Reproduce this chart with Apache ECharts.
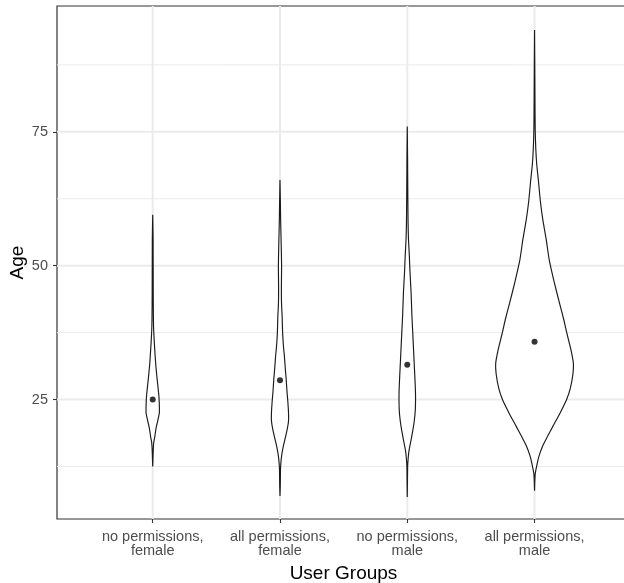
<!DOCTYPE html>
<html>
<head>
<meta charset="utf-8">
<script src="https://cdn.jsdelivr.net/npm/echarts@6/dist/echarts.min.js"></script>
<style>html,body{margin:0;padding:0;background:#fff}#chart{width:624px;height:583px}</style>
</head>
<body>
<div id="chart"></div>
<script>
// ---- data ----
var groupLabels = ['no permissions,\nfemale', 'all permissions,\nfemale', 'no permissions,\nmale', 'all permissions,\nmale'];
var groupPos = [1, 2, 3, 4];
var yTicks = [25, 50, 75];
var yMinorTicks = [12.5, 37.5, 62.5, 87.5];
var means = [25.0, 28.6, 31.5, 35.8];

// violin profiles: age values and half-widths (in x-axis units)
var v1Age  = [12.5, 15.5, 17, 18, 19.5, 21, 22.5, 24, 25.5, 27, 29, 31.5, 34.7, 37.7, 40, 45, 55, 59.5];
var v1Half = [0, 0.004, 0.008, 0.016, 0.025, 0.039, 0.052, 0.052, 0.049, 0.043, 0.034, 0.024, 0.015, 0.008, 0.0055, 0.004, 0.003, 0];

var v2Age  = [7, 9, 12, 13.5, 15, 16.5, 18, 19.5, 21, 22.5, 24.5, 26.5, 28.7, 31, 33, 35, 37.5, 40.5, 43, 46, 50, 54, 58, 62, 66];
var v2Half = [0, 0.0024, 0.004, 0.008, 0.016, 0.028, 0.043, 0.057, 0.067, 0.067, 0.062, 0.055, 0.049, 0.041, 0.035, 0.027, 0.0205, 0.017, 0.012, 0.011, 0.0126, 0.0095, 0.0055, 0.003, 0];

var v3Age  = [6.8, 10, 12.5, 14, 15.5, 17, 19, 21, 23, 25.5, 28, 31, 34, 37.5, 41, 45, 49, 52, 55, 58, 64, 70, 76];
var v3Half = [0, 0.0016, 0.003, 0.007, 0.014, 0.026, 0.042, 0.055, 0.063, 0.065, 0.062, 0.056, 0.05, 0.043, 0.036, 0.03, 0.021, 0.016, 0.0095, 0.0063, 0.004, 0.0024, 0];

var v4Age  = [8, 10, 11.3, 13.2, 14.5, 16.3, 18, 20, 22.5, 25, 27, 29.5, 31.8, 34.5, 37.4, 40, 43, 47, 51, 55, 58.6, 62, 66, 69, 72, 75, 78, 85, 94];
var v4Half = [0, 0.0024, 0.0063, 0.022, 0.0355, 0.063, 0.099, 0.144, 0.201, 0.252, 0.28, 0.3, 0.305, 0.284, 0.254, 0.229, 0.196, 0.154, 0.116, 0.091, 0.065, 0.046, 0.03, 0.017, 0.0095, 0.0055, 0.004, 0.0024, 0];

var violinAges = [v1Age, v2Age, v3Age, v4Age];
var violinHalves = [v1Half, v2Half, v3Half, v4Half];

// ---- chart ----
var FONT = 'Liberation Sans, Arial, Helvetica, sans-serif';
var X_MIN = 0.248, X_MAX = 4.75, Y_MIN = 2.7, Y_MAX = 98.5;
var chart = echarts.init(document.getElementById('chart'), null, {renderer: 'canvas'});

var violinData = groupPos.map(function (p, i) { return [p, i]; });

function renderViolin(params, api) {
  var pos = api.value(0);
  var idx = api.value(1);
  var ages = violinAges[idx], halves = violinHalves[idx];
  var pts = [];
  for (var i = 0; i < ages.length; i++) pts.push(api.coord([pos + halves[i], ages[i]]));
  for (var j = ages.length - 1; j >= 0; j--) pts.push(api.coord([pos - halves[j], ages[j]]));
  return {
    type: 'polygon',
    shape: {points: pts, smooth: 0.2},
    style: {fill: '#ffffff', stroke: '#1a1a1a', lineWidth: 1.15}
  };
}

function hGrid(width) {
  return function (params, api) {
    var cs = params.coordSys;
    var y = api.coord([X_MIN, api.value(1)])[1];
    return {type: 'line', shape: {x1: cs.x, y1: y, x2: cs.x + cs.width, y2: y},
      style: {stroke: '#ebebeb', lineWidth: width}};
  };
}
function vGrid(width) {
  return function (params, api) {
    var cs = params.coordSys;
    var x = api.coord([api.value(0), Y_MIN])[0];
    return {type: 'line', shape: {x1: x, y1: cs.y, x2: x, y2: cs.y + cs.height},
      style: {stroke: '#ebebeb', lineWidth: width}};
  };
}

var option = {
  animation: false,
  backgroundColor: '#ffffff',
  grid: {left: 57, right: -6, top: 6, bottom: 64, outerBoundsMode: 'none', containLabel: false,
    show: true, borderColor: '#333333', borderWidth: 1.2, backgroundColor: 'transparent'},
  xAxis: {
    type: 'value', min: X_MIN, max: X_MAX,
    splitLine: {show: false},
    axisLine: {show: false},
    axisTick: {show: true, customValues: groupPos, length: 4, lineStyle: {color: '#333333', width: 1.1}},
    axisLabel: {
      customValues: groupPos, margin: 11, color: '#4d4d4d', fontFamily: FONT, fontSize: 14.5, lineHeight: 14,
      formatter: function (v) { return groupLabels[Math.round(v) - 1] || ''; }
    },
    name: 'User Groups', nameLocation: 'middle', nameGap: 45, nameMoveOverlap: false,
    nameTextStyle: {color: '#000000', fontFamily: FONT, fontSize: 19}
  },
  yAxis: {
    type: 'value', min: Y_MIN, max: Y_MAX,
    splitLine: {show: false},
    axisLine: {show: false},
    axisTick: {show: true, customValues: yTicks, length: 4, lineStyle: {color: '#333333', width: 1.1}},
    axisLabel: {customValues: yTicks, margin: 9, color: '#4d4d4d', fontFamily: FONT, fontSize: 14.5},
    name: 'Age', nameLocation: 'middle', nameGap: 30, nameRotate: 90, nameMoveOverlap: false,
    nameTextStyle: {color: '#000000', fontFamily: FONT, fontSize: 19}
  },
  series: [
    {type: 'custom', silent: true, z: 0, renderItem: hGrid(1),
      data: yMinorTicks.map(function (v) { return [X_MIN, v]; })},
    {type: 'custom', silent: true, z: 0, renderItem: hGrid(2),
      data: yTicks.map(function (v) { return [X_MIN, v]; })},
    {type: 'custom', silent: true, z: 0, renderItem: vGrid(2),
      data: groupPos.map(function (v) { return [v, Y_MIN]; })},
    {type: 'custom', renderItem: renderViolin, data: violinData, z: 2, clip: true},
    {type: 'scatter', z: 3, symbolSize: 6, itemStyle: {color: '#000000'},
      data: groupPos.map(function (p, i) { return [p, means[i]]; })}
  ]
};
chart.setOption(option);
</script>
</body>
</html>
